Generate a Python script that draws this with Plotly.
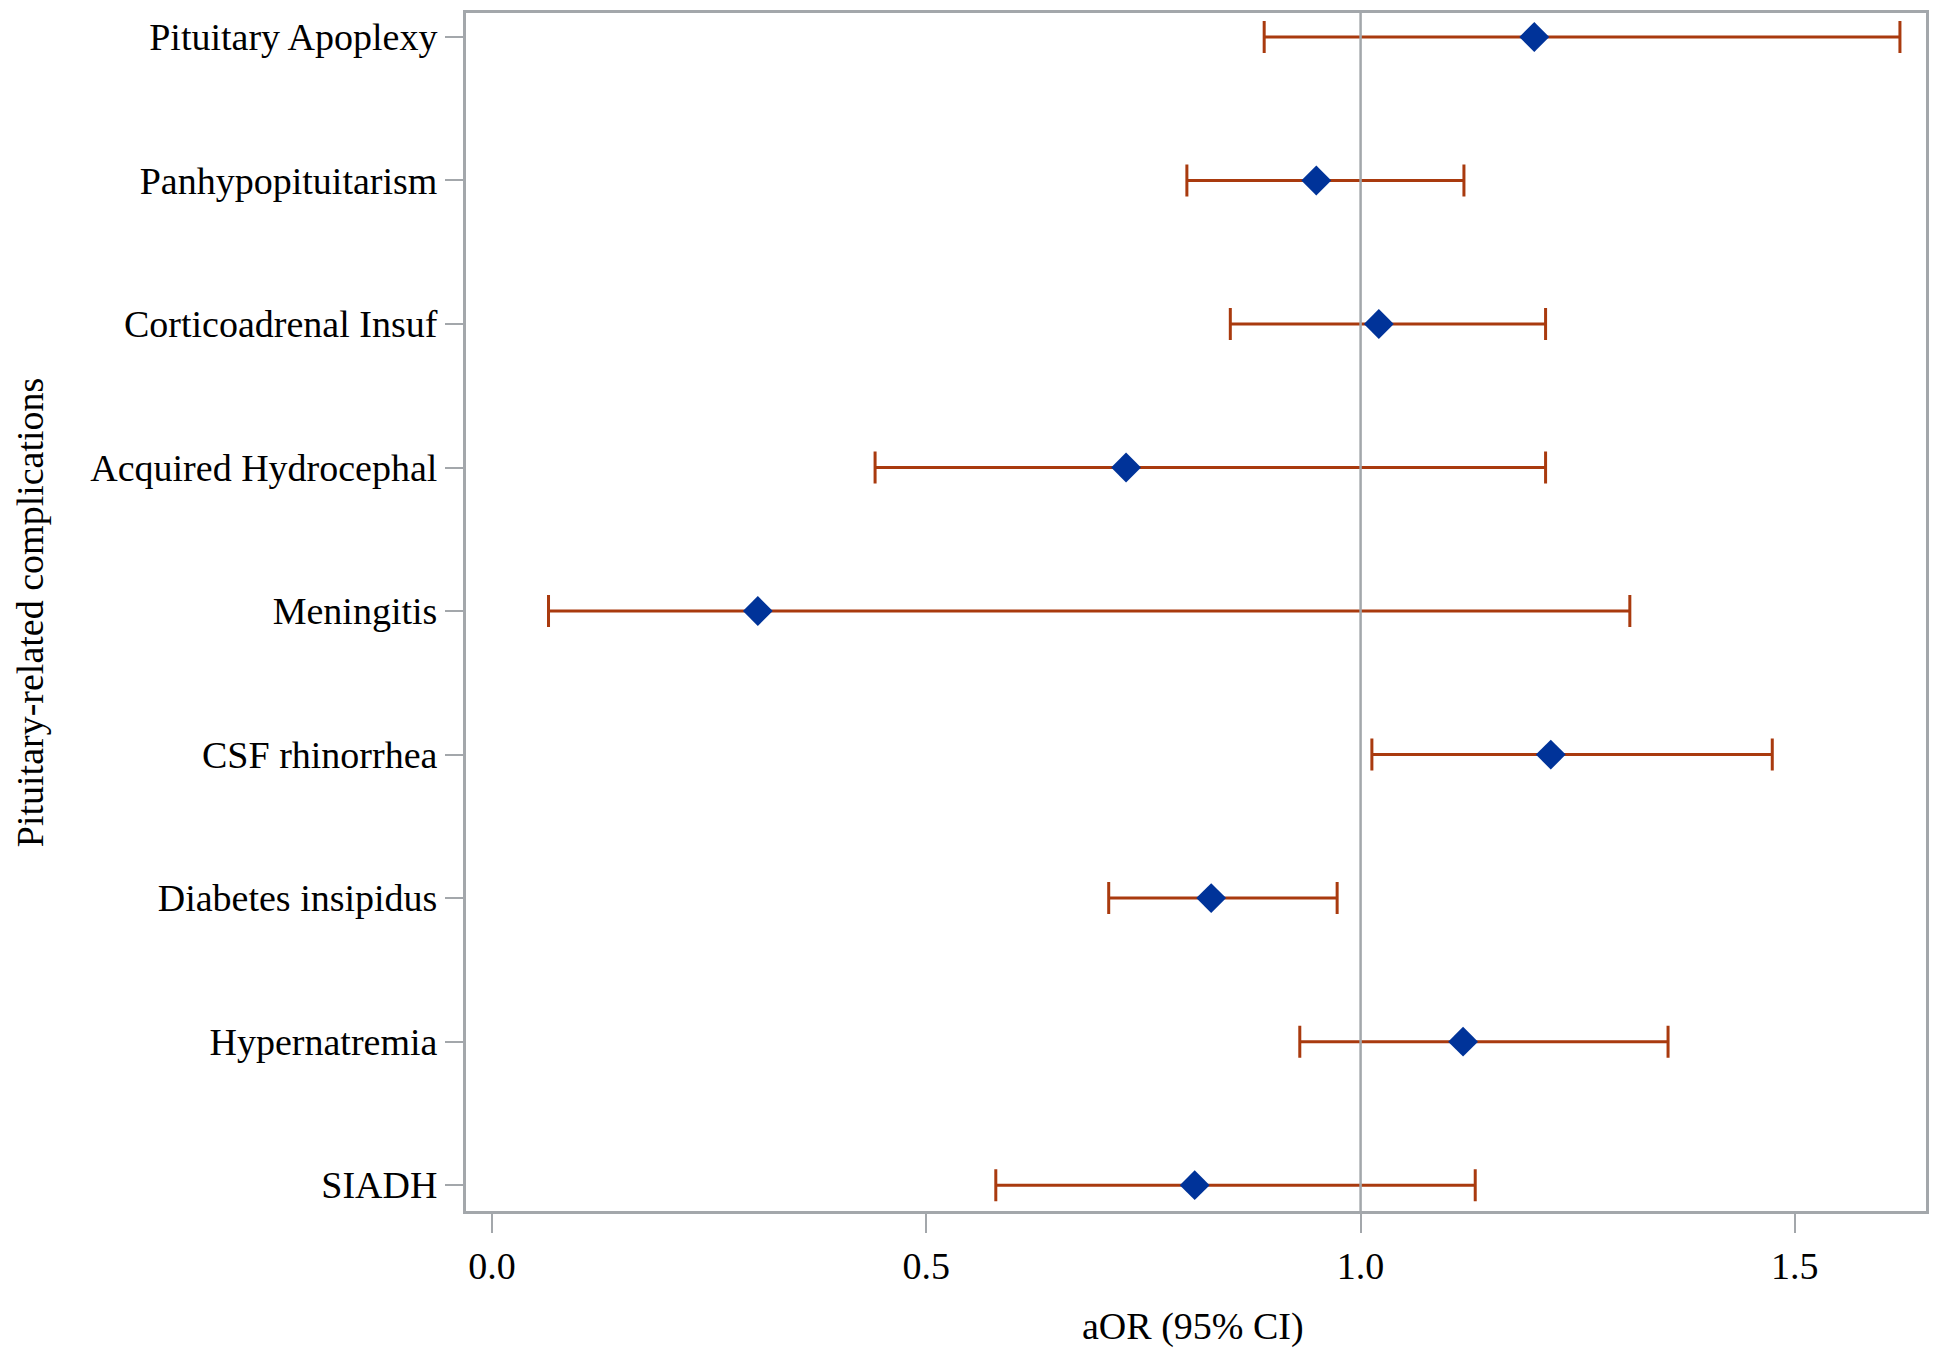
import plotly.graph_objects as go

categories = ["Pituitary Apoplexy", "Panhypopituitarism", "Corticoadrenal Insuf",
              "Acquired Hydrocephal", "Meningitis", "CSF rhinorrhea",
              "Diabetes insipidus", "Hypernatremia", "SIADH"]
aor = [1.200, 0.949, 1.021, 0.730, 0.306, 1.219, 0.828, 1.118, 0.809]
ci_low = [0.889, 0.800, 0.850, 0.441, 0.065, 1.013, 0.710, 0.930, 0.580]
ci_high = [1.621, 1.119, 1.213, 1.213, 1.310, 1.474, 0.973, 1.354, 1.132]
x_ticks = [0.0, 0.5, 1.0, 1.5]
x_tick_labels = ["0.0", "0.5", "1.0", "1.5"]
ref_value = 1.0

FONT = "Liberation Serif"
GRAY = "#A3A7AB"
RED = "#A93A0E"
BLUE = "#003399"

fig = go.Figure()
fig.add_trace(go.Scatter(
    x=aor, y=categories, mode="markers",
    marker=dict(symbol="diamond", size=23, color=BLUE, line=dict(width=0)),
    error_x=dict(type="data", symmetric=False,
                 array=[h - p for h, p in zip(ci_high, aor)],
                 arrayminus=[p - l for p, l in zip(aor, ci_low)],
                 color=RED, thickness=3, width=16),
    showlegend=False,
))

fig.add_shape(type="line", xref="x", yref="paper", x0=ref_value, x1=ref_value,
              y0=0, y1=1, line=dict(color=GRAY, width=2.5), layer="above")

fig.update_layout(
    width=1923, height=1343,
    margin=dict(l=458, r=3, t=2, b=140),
    paper_bgcolor="white", plot_bgcolor="white",
    font=dict(family=FONT, size=38, color="black"),
    xaxis=dict(range=[-0.030, 1.651], tickvals=x_ticks, ticktext=x_tick_labels,
               ticks="outside", ticklen=19, tickwidth=2, tickcolor=GRAY,
               showline=True, linecolor=GRAY, linewidth=3, mirror=True,
               showgrid=False, zeroline=False,
               tickfont=dict(family=FONT, size=38, color="black")),
    yaxis=dict(type="category", categoryorder="array", categoryarray=categories,
               range=[8.18, -0.167],
               ticks="outside", ticklen=18, tickwidth=2, tickcolor=GRAY,
               showline=True, linecolor=GRAY, linewidth=3, mirror=True,
               showgrid=False, zeroline=False,
               tickfont=dict(family=FONT, size=38, color="black")),
    annotations=[
        dict(text="aOR (95% CI)", xref="paper", yref="paper", x=0.498, y=-0.0967,
             xanchor="center", yanchor="middle", showarrow=False,
             font=dict(family=FONT, size=38, color="black")),
        dict(text="Pituitary-related complications", xref="paper", yref="paper",
             x=-0.2985, y=0.5, xanchor="center", yanchor="middle", textangle=-90,
             showarrow=False, borderpad=0,
             font=dict(family=FONT, size=38, color="black")),
    ],
)

fig.write_html("out.html")
